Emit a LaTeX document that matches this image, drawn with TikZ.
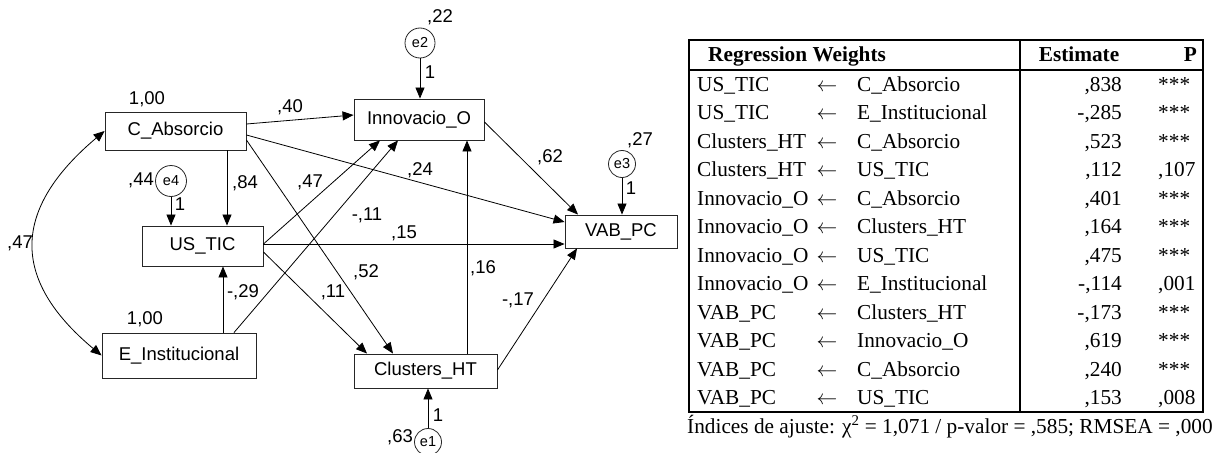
\documentclass[tikz,border=0pt]{standalone}
\usepackage{fontspec}
\setmainfont{Liberation Serif}
\newfontfamily\arialf{Liberation Sans}
\usetikzlibrary{arrows.meta,calc}
\newcommand\tabrow[5]{%
  \node[tbl,anchor=base west] (d#1) at (697,{91.3+28.5*(#1-1)}) {#2};
  \node[tbl,anchor=base] (a#1) at (827,{91.3+28.5*(#1-1)}) {$\leftarrow$};
  \node[tbl,anchor=base west] (p#1) at (857,{91.3+28.5*(#1-1)}) {#3};
  \node[tbl,anchor=base east] (v#1) at (1122,{91.3+28.5*(#1-1)}) {#4};
  \node[tbl,anchor=base west] (s#1) at (1158,{91.3+28.5*(#1-1)}) {#5};
}
\begin{document}
\begin{tikzpicture}[x=1pt,y=-1pt,
  obs/.style={draw=black!85, line width=0.9pt, inner sep=0pt, font=\arialf\fontsize{18.5}{20}\selectfont},
  err/.style={draw=black!85, circle, line width=0.8pt, inner sep=0pt, font=\arialf\fontsize{14.5}{16}\selectfont},
  lbl/.style={inner sep=0pt, font=\arialf\fontsize{18.5}{20}\selectfont},
  arr/.style={-{Triangle[length=11pt,width=9pt]}, line width=0.8pt},
  dbl/.style={{Triangle[length=11pt,width=9pt]}-{Triangle[length=11pt,width=9pt]}, line width=0.8pt},
  tbl/.style={inner sep=0pt, font=\fontsize{21.3}{23}\selectfont},
  tblb/.style={inner sep=0pt, font=\bfseries\fontsize{21.3}{23}\selectfont},
  frame/.style={line width=1.8pt}
]
\fill[white] (0,0) rectangle (1214,452);
\useasboundingbox (0,0) rectangle (1214,452);

% observed variables
\node[obs, minimum width=141pt, minimum height=38pt] (C) at (175.5,131) {C\_Absorcio};
\node[obs, minimum width=121pt, minimum height=40pt] (U) at (202.5,246) {US\_TIC};
\node[obs, minimum width=154pt, minimum height=45pt] (E) at (179,355.5) {E\_Institucional};
\node[obs, minimum width=130pt, minimum height=41pt] (I) at (419,119.5) {Innovacio\_O};
\node[obs, minimum width=112pt, minimum height=33pt] (V) at (621,231.5) {VAB\_PC};
\node[obs, minimum width=143pt, minimum height=34pt] (H) at (425.5,371) {Clusters\_HT};

% error terms
\node[err, minimum size=30pt] (e2) at (420,43) {e2};
\node[err, minimum size=31pt] (e4) at (171,181) {e4};
\node[err, minimum size=27pt] (e3) at (622,164) {e3};
\node[err, minimum size=27pt] (e1) at (428,442) {e1};

% paths
\draw[arr] ([yshift=7pt]C.east) -- ([yshift=4.5pt]I.west);
\draw[arr] ([yshift=-4pt]C.east) -- ([yshift=9.5pt]V.west);
\draw[arr] ([yshift=-9pt]C.east) -- ([xshift=-32.5pt]H.north);
\draw[arr] ([xshift=51.5pt]C.south) -- ([xshift=24.5pt]U.north);
\draw[arr] (e4.south) -- (e4.south |- U.north);
\draw[arr] ([xshift=44pt]E.north) -- ([xshift=20.5pt]U.south);
\draw[arr] ([xshift=55pt]E.north) -- ([xshift=-21pt]I.south);
\draw[arr] ([yshift=2pt]U.east) -- ([xshift=-39pt]I.south);
\draw[arr] ([yshift=2pt]U.east) -- ([yshift=-12.5pt]V.west);
\draw[arr] ([yshift=-6pt]U.east) -- ([xshift=-58.5pt]H.north);
\draw[arr] ([xshift=41.5pt]H.north) -- ([xshift=48pt]I.south);
\draw[arr] ([yshift=1pt]H.east) -- ([xshift=-44pt]V.south);
\draw[arr] ([yshift=-2.5pt]I.east) -- ([xshift=-43pt]V.north);
\draw[arr] (e2.south) -- (e2.south |- I.north);
\draw[arr] (e3.south) -- (e3.south |- V.north);
\draw[arr] (e1.north) -- (e1.north |- H.south);
\draw[dbl] (E.west) .. controls (10,279) and (12,209) .. (C.west);

% labels
\node[lbl] (lc) at (147,99) {1,00};
\node[lbl] (le) at (145,319) {1,00};
\node[lbl] (lce) at (20,243) {,47};
\node[lbl] (le4) at (141,180) {,44};
\node[lbl] (le4w) at (180,204) {1};
\node[lbl] (lcu) at (245,183) {,84};
\node[lbl] (lci) at (290,107) {,40};
\node[lbl] (lui) at (310,182) {,47};
\node[lbl] (lei) at (367,215) {-,11};
\node[lbl] (luv) at (404,233) {,15};
\node[lbl] (lcv) at (420,170) {,24};
\node[lbl] (liv) at (550,157) {,62};
\node[lbl] (le2) at (440,17) {,22};
\node[lbl] (le2w) at (430,72) {1};
\node[lbl] (le3) at (640,140) {,27};
\node[lbl] (le3w) at (631,188) {1};
\node[lbl] (lch) at (366,272) {,52};
\node[lbl] (luh) at (333,292) {,11};
\node[lbl] (lhi) at (483,268) {,16};
\node[lbl] (lhv) at (518,300) {-,17};
\node[lbl] (le1) at (400,437) {,63};
\node[lbl] (le1w) at (438,415) {1};
\node[lbl] (leu) at (243,292) {-,29};

% table
\draw[frame] (689,40) rectangle (1203,412);
\draw[frame] (689,70) -- (1203,70);
\draw[frame] (1020,40) -- (1020,412);
\node[tblb, anchor=base west] (hrw) at (708,62) {Regression Weights};
\node[tblb, anchor=base] (hest) at (1079,62) {Estimate};
\node[tblb, anchor=base east] (hp) at (1197,62) {P};
\tabrow{1}{US\_TIC}{C\_Absorcio}{,838}{***}
\tabrow{2}{US\_TIC}{E\_Institucional}{-,285}{***}
\tabrow{3}{Clusters\_HT}{C\_Absorcio}{,523}{***}
\tabrow{4}{Clusters\_HT}{US\_TIC}{,112}{,107}
\tabrow{5}{Innovacio\_O}{C\_Absorcio}{,401}{***}
\tabrow{6}{Innovacio\_O}{Clusters\_HT}{,164}{***}
\tabrow{7}{Innovacio\_O}{US\_TIC}{,475}{***}
\tabrow{8}{Innovacio\_O}{E\_Institucional}{-,114}{,001}
\tabrow{9}{VAB\_PC}{Clusters\_HT}{-,173}{***}
\tabrow{10}{VAB\_PC}{Innovacio\_O}{,619}{***}
\tabrow{11}{VAB\_PC}{C\_Absorcio}{,240}{***}
\tabrow{12}{VAB\_PC}{US\_TIC}{,153}{,008}
\node[tbl, anchor=base west] (fn) at (687,433) {Índices de ajuste: χ\textsuperscript{2} = 1,071 / p-valor = ,585; RMSEA = ,000};
\end{tikzpicture}
\end{document}
